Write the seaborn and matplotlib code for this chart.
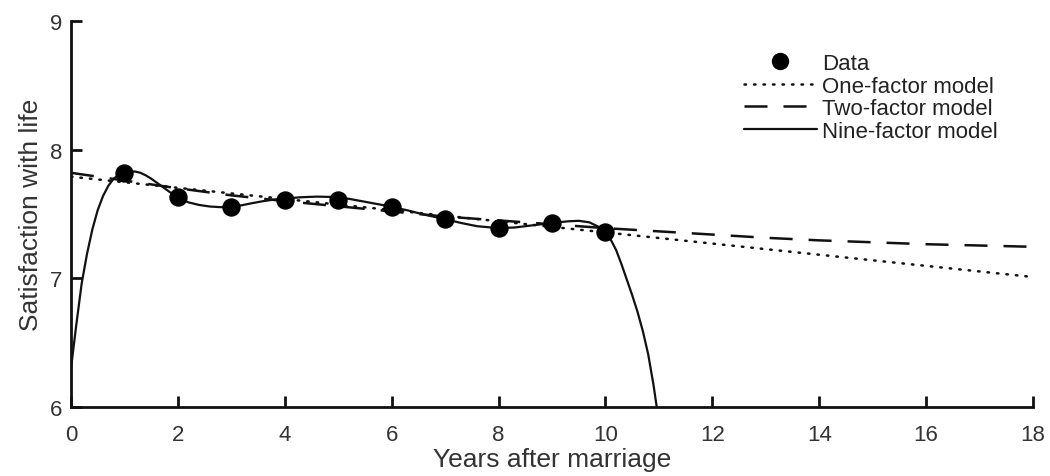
import numpy as np
import pandas as pd
import matplotlib
matplotlib.use("Agg")
import matplotlib.pyplot as plt
import seaborn as sns
from matplotlib.lines import Line2D

# observed data: satisfaction with life by years after marriage
years = [1, 2, 3, 4, 5, 6, 7, 8, 9, 10]
satisfaction = [7.82, 7.63, 7.555, 7.61, 7.61, 7.555, 7.46, 7.39, 7.43, 7.36]

# one-factor model (straight line)
one_x = [0, 18]
one_y = [7.79, 7.01]

# two-factor model (gently curving)
two_x = [0, 1, 2, 3, 4, 5, 6, 7, 8, 9, 10, 11, 12, 13, 14, 15, 16, 17, 18]
two_y = [7.82, 7.76, 7.70, 7.645, 7.60, 7.56, 7.52, 7.48, 7.45, 7.42, 7.39,
         7.365, 7.34, 7.315, 7.295, 7.28, 7.265, 7.255, 7.245]

# nine-factor model
nine_x = [0, 0.1, 0.2, 0.3, 0.4, 0.5, 0.6, 0.7, 0.8, 0.9, 1.0, 1.1, 1.2, 1.3,
          1.4, 1.5, 1.6, 1.7, 1.8, 1.9, 2.0, 2.2, 2.4, 2.6, 2.8, 3.0, 3.2,
          3.4, 3.6, 3.8, 4.0, 4.3, 4.6, 4.9, 5.2, 5.5, 5.8, 6.0, 6.3, 6.6,
          7.0, 7.3, 7.6, 8.0, 8.3, 8.6, 9.0, 9.3, 9.5, 9.7, 9.85, 10.0, 10.1,
          10.2, 10.3, 10.4, 10.5, 10.6, 10.7, 10.8, 10.9, 10.96]
nine_y = [6.30, 6.64, 6.96, 7.19, 7.38, 7.53, 7.64, 7.72, 7.775, 7.805, 7.822,
          7.83, 7.83, 7.82, 7.80, 7.775, 7.745, 7.715, 7.685, 7.655, 7.63,
          7.59, 7.57, 7.558, 7.553, 7.556, 7.568, 7.585, 7.60, 7.612, 7.62,
          7.63, 7.635, 7.632, 7.618, 7.595, 7.572, 7.555, 7.528, 7.496, 7.46,
          7.43, 7.405, 7.39, 7.395, 7.41, 7.43, 7.443, 7.447, 7.435, 7.405,
          7.36, 7.30, 7.22, 7.11, 6.99, 6.87, 6.74, 6.59, 6.41, 6.17, 6.0]

sns.set_style("ticks")
plt.rcParams['font.family'] = ['Liberation Sans', 'DejaVu Sans']

fig = plt.figure(figsize=(10.5, 4.77), dpi=100)
ax = fig.add_axes([0.0676, 0.1447, 0.9162, 0.8092])

ink = "#111111"
dotted = (0, (0.6, 3.2))
dashed = (0, (9.2, 6.4))
sns.lineplot(x=one_x, y=one_y, ax=ax, color=ink, lw=1.8, estimator=None,
             linestyle=dotted, dash_capstyle="round")
sns.lineplot(x=two_x, y=two_y, ax=ax, color=ink, lw=1.8, estimator=None,
             linestyle=dashed)
sns.lineplot(x=nine_x, y=nine_y, ax=ax, color=ink, lw=1.6, estimator=None, sort=False)
sns.scatterplot(x=years, y=satisfaction, ax=ax, color="black", s=150,
                edgecolor="black", zorder=5)

ax.set_xlim(0, 18)
ax.set_ylim(6, 9)
ax.set_xticks(range(0, 19, 2))
ax.set_yticks([6, 7, 8, 9])
sns.despine(ax=ax)
for side in ["left", "bottom"]:
    ax.spines[side].set_linewidth(2)
    ax.spines[side].set_color(ink)
ax.tick_params(direction="in", length=8, width=2, colors=ink, labelsize=16,
               labelcolor="#333333")
ax.tick_params(axis="x", pad=12)
ax.tick_params(axis="y", pad=6)
ax.set_xlabel("Years after marriage", fontsize=19, color="#333333", labelpad=2)
ax.set_ylabel("Satisfaction with life", fontsize=19, color="#333333", labelpad=5)

handles = [
    Line2D([], [], marker="o", color="black", linestyle="none", markersize=11.5),
    Line2D([], [], color=ink, lw=1.8, linestyle=dotted, dash_capstyle="round"),
    Line2D([], [], color=ink, lw=1.8, linestyle=dashed),
    Line2D([], [], color=ink, lw=1.6),
]
labels = ["Data", "One-factor model", "Two-factor model", "Nine-factor model"]
ax.legend(handles, labels, loc="upper left", bbox_to_anchor=(0.6785, 0.969),
          frameon=False, handlelength=3.3, handletextpad=0.22, labelspacing=0.07,
          borderpad=0.4, prop={"size": 16}, labelcolor="#222222")

fig.savefig("out.png", dpi=100)
